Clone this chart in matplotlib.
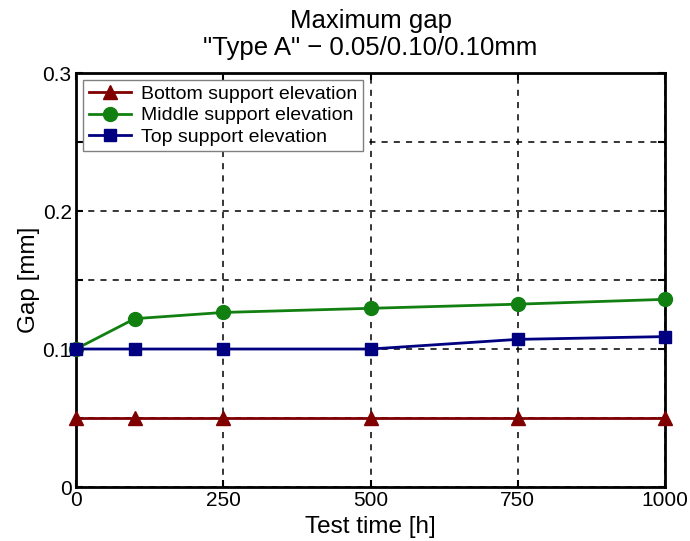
import numpy as np
import matplotlib
matplotlib.use('Agg')
import matplotlib.pyplot as plt

plt.rcParams['font.family'] = ['Liberation Sans', 'DejaVu Sans']

# data
test_time = [0, 100, 250, 500, 750, 1000]
bottom_gap = [0.05, 0.05, 0.05, 0.05, 0.05, 0.05]
middle_gap = [0.10, 0.122, 0.1265, 0.1295, 0.1325, 0.136]
top_gap = [0.10, 0.10, 0.10, 0.10, 0.107, 0.109]

x_ticks = [0, 250, 500, 750, 1000]
y_ticks = [0, 0.05, 0.1, 0.15, 0.2, 0.25, 0.3]
y_labels = ['0', '', '0.1', '', '0.2', '', '0.3']

fig = plt.figure(figsize=(6.9, 5.41), dpi=100)
ax = fig.add_axes([0.110, 0.0998, 0.854, 0.7652])

ax.plot(test_time, bottom_gap, color='#800000', marker='^', markersize=10,
        linewidth=2, label='Bottom support elevation', clip_on=False, zorder=5)
ax.plot(test_time, middle_gap, color='#118011', marker='o', markersize=10,
        linewidth=2, label='Middle support elevation', clip_on=False, zorder=5)
ax.plot(test_time, top_gap, color='#000080', marker='s', markersize=8.5,
        linewidth=2, label='Top support elevation', clip_on=False, zorder=5)

ax.set_xlim(0, 1000)
ax.set_ylim(0, 0.3)
ax.set_xticks(x_ticks)
ax.set_yticks(y_ticks)
ax.set_yticklabels(y_labels)
ax.tick_params(direction='in', length=5, width=1.5, labelsize=15,
               top=True, right=True, color='black', pad=3)
ax.grid(True, color='black', linestyle=(0, (4, 4)), linewidth=1.1)
ax.set_axisbelow(True)
for s in ax.spines.values():
    s.set_linewidth(2)

ax.set_xlabel('Test time [h]', fontsize=17.5, labelpad=4)
ax.set_ylabel('Gap [mm]', fontsize=17.5, labelpad=2)
ax.set_title('Maximum gap\n"Type A" \u2212 0.05/0.10/0.10mm', fontsize=18.5, pad=13,
             linespacing=1.15)

leg = ax.legend(loc='upper left', fontsize=14, fancybox=False, framealpha=1,
                edgecolor='#808080', borderaxespad=0.35, handlelength=2.2,
                handletextpad=0.5, borderpad=0.3, labelspacing=0.18)
leg.get_frame().set_linewidth(1)

fig.savefig('out.png', dpi=100)
